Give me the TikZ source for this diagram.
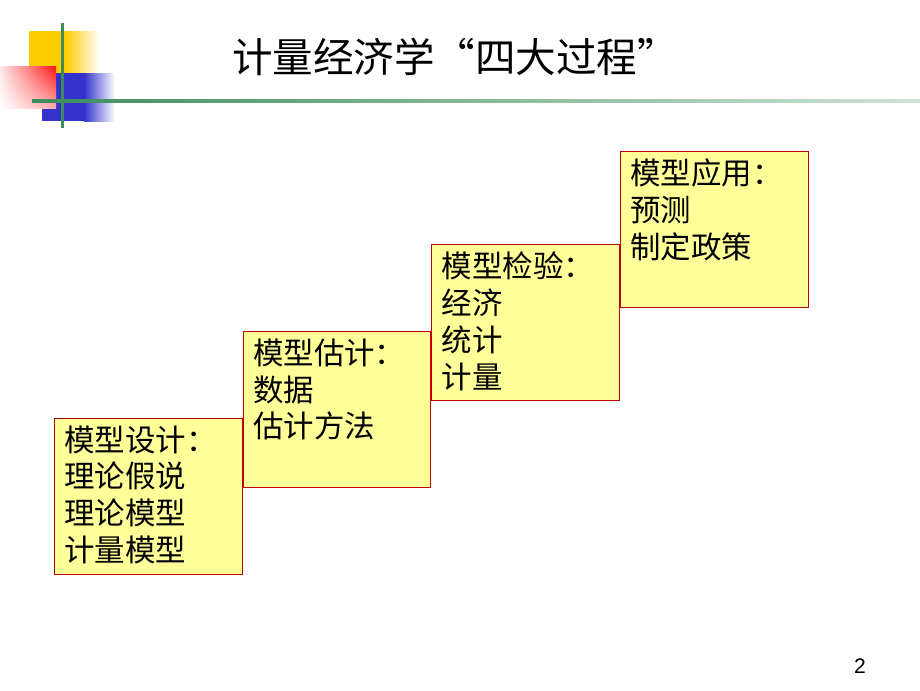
\documentclass[tikz,border=0pt]{standalone}
\usepackage{fontspec}
\usepackage{tikz}
\usetikzlibrary{positioning, shadings}
\newfontfamily\cjk{Noto Sans CJK SC}
\setsansfont{Liberation Sans}
\definecolor{boxyellow}{RGB}{255,255,153}
\definecolor{boxred}{RGB}{192,0,0}
\definecolor{bargreen}{RGB}{60,140,92}
\definecolor{sqyellow}{RGB}{255,204,0}
\definecolor{sqblue}{RGB}{51,51,204}
\definecolor{sqred}{RGB}{255,20,20}
\newcommand{\stepcontent}[1]{\parbox[t][4.26cm][t]{5.03cm}{#1}}

\begin{document}
\begin{tikzpicture}[x=0.03cm,y=-0.03cm,
    stepbox/.style={draw=boxred, fill=boxyellow, line width=0.8pt,
      inner xsep=0.3cm, inner ysep=0.21cm,
      font=\cjk\fontsize{26}{31.5}\selectfont}]
      \useasboundingbox (0,0) rectangle (920,690);
      % corner decoration
      \fill[sqyellow] (29,31) rectangle (65,73);
      \shade[left color=sqyellow, right color=white] (65,31) rectangle (100,73);
      \fill[sqblue] (42,73) rectangle (84,121);
      \shade[left color=sqblue, right color=white] (84,73) rectangle (115,121);
      \shade[upper right=sqred, upper left=sqred!10, lower right=sqred!35, lower left=white] (0,66) rectangle (56,108);
      \shade[left color=bargreen, right color=bargreen!25] (32,99) rectangle (920,102);
      \fill[bargreen] (61,23) rectangle (64,128);
      % title
      \node[font=\cjk\fontsize{34.6}{40}\selectfont] (title) at (455,57) {计量经济学“四大过程”};
      % steps
      \node[stepbox, anchor=north west] (design) at (54,418)
        {\stepcontent{模型设计：\\理论假说\\理论模型\\计量模型}};
      \node[stepbox] (estimate) [above right=-2.1cm and 0cm of design]
        {\stepcontent{模型估计：\\数据\\估计方法}};
      \node[stepbox] (test) [above right=-2.1cm and 0cm of estimate]
        {\stepcontent{模型检验：\\经济\\统计\\计量}};
      \node[stepbox] (apply) [above right=-1.92cm and 0cm of test]
        {\stepcontent{模型应用：\\预测\\制定政策}};
      % page number
      \node[font=\sffamily\fontsize{18}{20}\selectfont] (page) at (860,666) {2};
    \end{tikzpicture}
\end{document}
